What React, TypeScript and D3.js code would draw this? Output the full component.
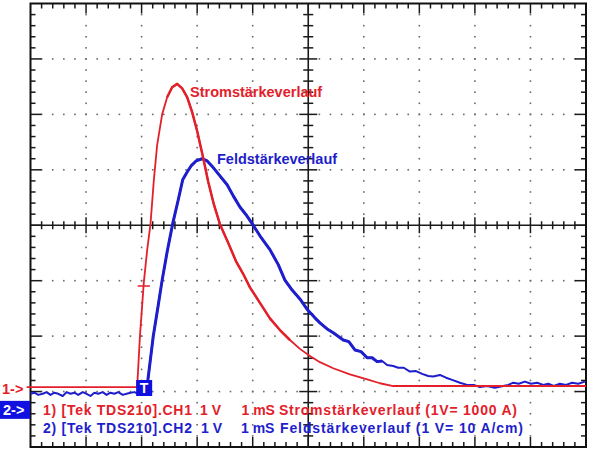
import React from 'react';
import * as d3 from 'd3';

const W = 600;
const H = 459;

// Channel 1 (Stromstärke), time in ms from screen left, volts above CH1 ground
const CH1_TIME = [-0.07, 1.92, 1.97, 2.04, 2.10, 2.16, 2.22, 2.28, 2.37, 2.46, 2.55, 2.64, 2.73, 2.82, 2.91, 3.00, 3.11, 3.20, 3.30, 3.41, 3.56, 3.70, 3.83, 3.95, 4.13, 4.31, 4.49, 4.67, 4.85, 5.03, 5.21, 5.45, 5.75, 6.06, 6.29, 6.53, 10];
const CH1_VOLTS = [0, 0, 0.92, 1.89, 2.47, 2.94, 3.73, 4.37, 4.92, 5.23, 5.41, 5.47, 5.39, 5.23, 4.96, 4.62, 4.13, 3.70, 3.30, 2.94, 2.60, 2.27, 2.04, 1.80, 1.52, 1.24, 1.03, 0.85, 0.69, 0.56, 0.45, 0.34, 0.23, 0.14, 0.07, 0.02, 0.02];

// Channel 2 (Feldstärke)
const CH2_TIME = [0.00, 0.07, 0.14, 0.22, 0.29, 0.36, 0.43, 0.50, 0.58, 0.65, 0.72, 0.79, 0.86, 0.94, 1.01, 1.08, 1.15, 1.22, 1.30, 1.37, 1.44, 1.51, 1.58, 1.66, 1.73, 1.80, 1.87, 1.94,
  1.99, 2.10, 2.21, 2.30, 2.37, 2.46, 2.56, 2.66, 2.74, 2.82, 2.89, 2.98, 3.09, 3.18, 3.29, 3.41, 3.54, 3.65, 3.77, 3.88, 3.99, 4.13, 4.31, 4.46, 4.58, 4.71, 4.85, 4.99, 5.12, 5.21, 5.34, 5.45, 5.63, 5.73, 5.84, 5.95, 6.06, 6.15, 6.24, 6.33, 6.42, 6.53, 6.62, 6.72, 6.83, 6.94, 7.05, 7.16, 7.25, 7.37, 7.48, 7.59, 7.73, 7.86, 7.98, 8.09, 8.22, 8.36, 8.51, 8.60, 8.69, 8.79, 8.90, 9.01, 9.12, 9.23, 9.32, 9.42, 9.53, 9.64, 9.75, 9.86, 9.98];
const CH2_VOLTS = [0.29, 0.31, 0.27, 0.29, 0.32, 0.27, 0.31, 0.29, 0.25, 0.32, 0.29, 0.31, 0.27, 0.32, 0.29, 0.25, 0.31, 0.29, 0.32, 0.27, 0.31, 0.29, 0.32, 0.27, 0.29, 0.31, 0.32, 0.29,
  0.29, 0.43, 1.33, 1.89, 2.34, 2.85, 3.36, 3.79, 4.15, 4.29, 4.40, 4.49, 4.53, 4.49, 4.37, 4.22, 4.06, 3.86, 3.66, 3.52, 3.36, 3.14, 2.89, 2.62, 2.34, 2.16, 2.00, 1.80, 1.66, 1.57, 1.46, 1.39, 1.26, 1.23, 1.08, 1.05, 0.94, 0.94, 0.87, 0.88, 0.81, 0.79, 0.76, 0.76, 0.69, 0.70, 0.65, 0.61, 0.60, 0.63, 0.58, 0.54, 0.49, 0.45, 0.45, 0.41, 0.43, 0.40, 0.43, 0.45, 0.49, 0.47, 0.51, 0.47, 0.49, 0.45, 0.47, 0.43, 0.47, 0.45, 0.49, 0.47, 0.51];

const CH1_GROUND = -2.92; // divisions from screen center
const CH2_GROUND = -3.33;
const TRIGGER_TIME = 1.92;

const LABEL_CH1 = 'Stromstärkeverlauf';
const LABEL_CH2 = 'Feldstärkeverlauf';
const LEGEND_CH1 = ['1) [Tek TDS210].CH1', '1 V', '1 mS', 'Stromstärkeverlauf (1V= 1000 A)'];
const LEGEND_CH2 = ['2) [Tek TDS210].CH2', '1 V', '1 mS', 'Feldstärkeverlauf (1 V= 10 A/cm)'];

const RED = '#e3202a';
const BLUE = '#1e1ecc';
const BOX = '#1010e0';
const FONT = '"Liberation Sans", Arial, sans-serif';

export default function App() {
  const LEFT = 30.5, RIGHT = 586, TOP = 3.5, BOTTOM = 447;
  const x = d3.scaleLinear().domain([0, 10]).range([LEFT, RIGHT]);
  const y = d3.scaleLinear().domain([-4, 4]).range([BOTTOM, TOP]);

  const ch1 = CH1_TIME.map((t, i) => [t, CH1_VOLTS[i]] as [number, number]);
  const ch2 = CH2_TIME.map((t, i) => [t, CH2_VOLTS[i]] as [number, number]);

  const line1 = d3.line<[number, number]>().x(d => x(d[0])).y(d => y(CH1_GROUND + d[1]));
  const line2 = d3.line<[number, number]>().x(d => x(d[0])).y(d => y(CH2_GROUND + d[1]));
  const ch2Main = ch2.filter(d => d[0] >= 1.99 && d[0] <= 6.35);
  const ch1Main = ch1.filter(d => d[0] >= 2.4 && d[0] <= 4.7);

  const xMinor = d3.range(1, 50).map(i => i / 5);
  const yMinor = d3.range(1, 40).map(i => -4 + i / 5);
  const isMajor = (v: number, base: number) => Math.abs((v - base) - Math.round(v - base)) < 1e-6;

  const dots: JSX.Element[] = [];
  [1, 2, 3, 4, 6, 7, 8, 9].forEach(gx => {
    yMinor.forEach((v, j) => {
      dots.push(<rect key={`dv${gx}-${j}`} x={x(gx) - 0.8} y={y(v) - 0.8} width={1.6} height={1.6} fill="#6a6a6a" />);
    });
  });
  [-3, -2, -1, 1, 2, 3].forEach(gy => {
    xMinor.forEach((v, j) => {
      dots.push(<rect key={`dh${gy}-${j}`} x={x(v) - 0.8} y={y(gy) - 0.8} width={1.6} height={1.6} fill="#6a6a6a" />);
    });
  });

  const ticks: JSX.Element[] = [];
  xMinor.forEach((v, i) => {
    const major = isMajor(v, 0);
    const len = major ? 10 : 5;
    const px = x(v);
    ticks.push(<line key={`tt${i}`} x1={px} x2={px} y1={TOP} y2={TOP + len} />);
    ticks.push(<line key={`tb${i}`} x1={px} x2={px} y1={BOTTOM} y2={BOTTOM - len} />);
    const c = major ? 8 : 4;
    ticks.push(<line key={`tc${i}`} x1={px} x2={px} y1={y(0) - c} y2={y(0) + c} />);
  });
  yMinor.forEach((v, i) => {
    const major = isMajor(v, -4);
    const len = major ? 11 : 5;
    const py = y(v);
    ticks.push(<line key={`tl${i}`} x1={LEFT} x2={LEFT + len} y1={py} y2={py} />);
    ticks.push(<line key={`tr${i}`} x1={RIGHT} x2={RIGHT - len} y1={py} y2={py} />);
    const c = major ? 9 : 5;
    ticks.push(<line key={`tv${i}`} x1={x(5) - c} x2={x(5) + c} y1={py} y2={py} />);
  });

  const tx = x(TRIGGER_TIME);

  return (
    <svg width={W} height={H} style={{ position: 'absolute', left: 0, top: 0, background: '#fff' }} fontFamily={FONT}>
      <rect x={0} y={0} width={W} height={H} fill="#fff" />
      <g>{dots}</g>
      <g stroke="#1a1a1a" strokeWidth={1.5}>{ticks}</g>
      <line x1={LEFT} x2={RIGHT} y1={y(0)} y2={y(0)} stroke="#1a1a1a" strokeWidth={1.6} />
      <line x1={x(5)} x2={x(5)} y1={TOP} y2={BOTTOM} stroke="#1a1a1a" strokeWidth={1.6} />
      <rect x={LEFT} y={TOP} width={RIGHT - LEFT} height={BOTTOM - TOP} fill="none" stroke="#111" strokeWidth={2} />

      <path d={line2(ch2) || ''} fill="none" stroke={BLUE} strokeWidth={2} strokeLinejoin="round" />
      <path d={line2(ch2Main) || ''} fill="none" stroke={BLUE} strokeWidth={3} strokeLinejoin="round" />
      <path d={line1(ch1) || ''} fill="none" stroke={RED} strokeWidth={1.8} strokeLinejoin="round" />
      <path d={line1(ch1Main) || ''} fill="none" stroke={RED} strokeWidth={2.5} strokeLinejoin="round" />
      <line x1={x(1.93)} x2={x(2.15)} y1={286} y2={286} stroke={RED} strokeWidth={1.5} />

      <text x={190} y={97} fill={RED} fontSize={14.5} fontWeight="bold">{LABEL_CH1}</text>
      <text x={217} y={163.5} fill={BLUE} fontSize={14.5} fontWeight="bold">{LABEL_CH2}</text>

      <g fontSize={14} fontWeight="bold">
        <text x={43} y={414.5} fill={RED} textLength={149} lengthAdjust="spacing">{LEGEND_CH1[0]}</text>
        <text x={200} y={414.5} fill={RED}>{LEGEND_CH1[1]}</text>
        <text x={241.5} y={414.5} fill={RED}>{LEGEND_CH1[2]}</text>
        <text x={279} y={414.5} fill={RED} textLength={238} lengthAdjust="spacing">{LEGEND_CH1[3]}</text>
        <text x={43} y={432.5} fill={BLUE} textLength={149} lengthAdjust="spacing">{LEGEND_CH2[0]}</text>
        <text x={201} y={432.5} fill={BLUE}>{LEGEND_CH2[1]}</text>
        <text x={241} y={432.5} fill={BLUE}>{LEGEND_CH2[2]}</text>
        <text x={280} y={432.5} fill={BLUE} textLength={243} lengthAdjust="spacing">{LEGEND_CH2[3]}</text>
      </g>

      <text x={2} y={y(CH1_GROUND) + 7} fill={RED} fontSize={14.5} fontWeight="bold">1-&gt;</text>
      <rect x={0} y={y(CH2_GROUND) - 9} width={30} height={18} fill={BOX} />
      <text x={3} y={y(CH2_GROUND) + 5.5} fill="#fff" fontSize={14.5} fontWeight="bold">2-&gt;</text>
      <rect x={tx - 1} y={380} width={16} height={16} fill={BOX} />
      <text x={tx + 7} y={393} fill="#fff" fontSize={14} fontWeight="bold" textAnchor="middle">T</text>
    </svg>
  );
}
